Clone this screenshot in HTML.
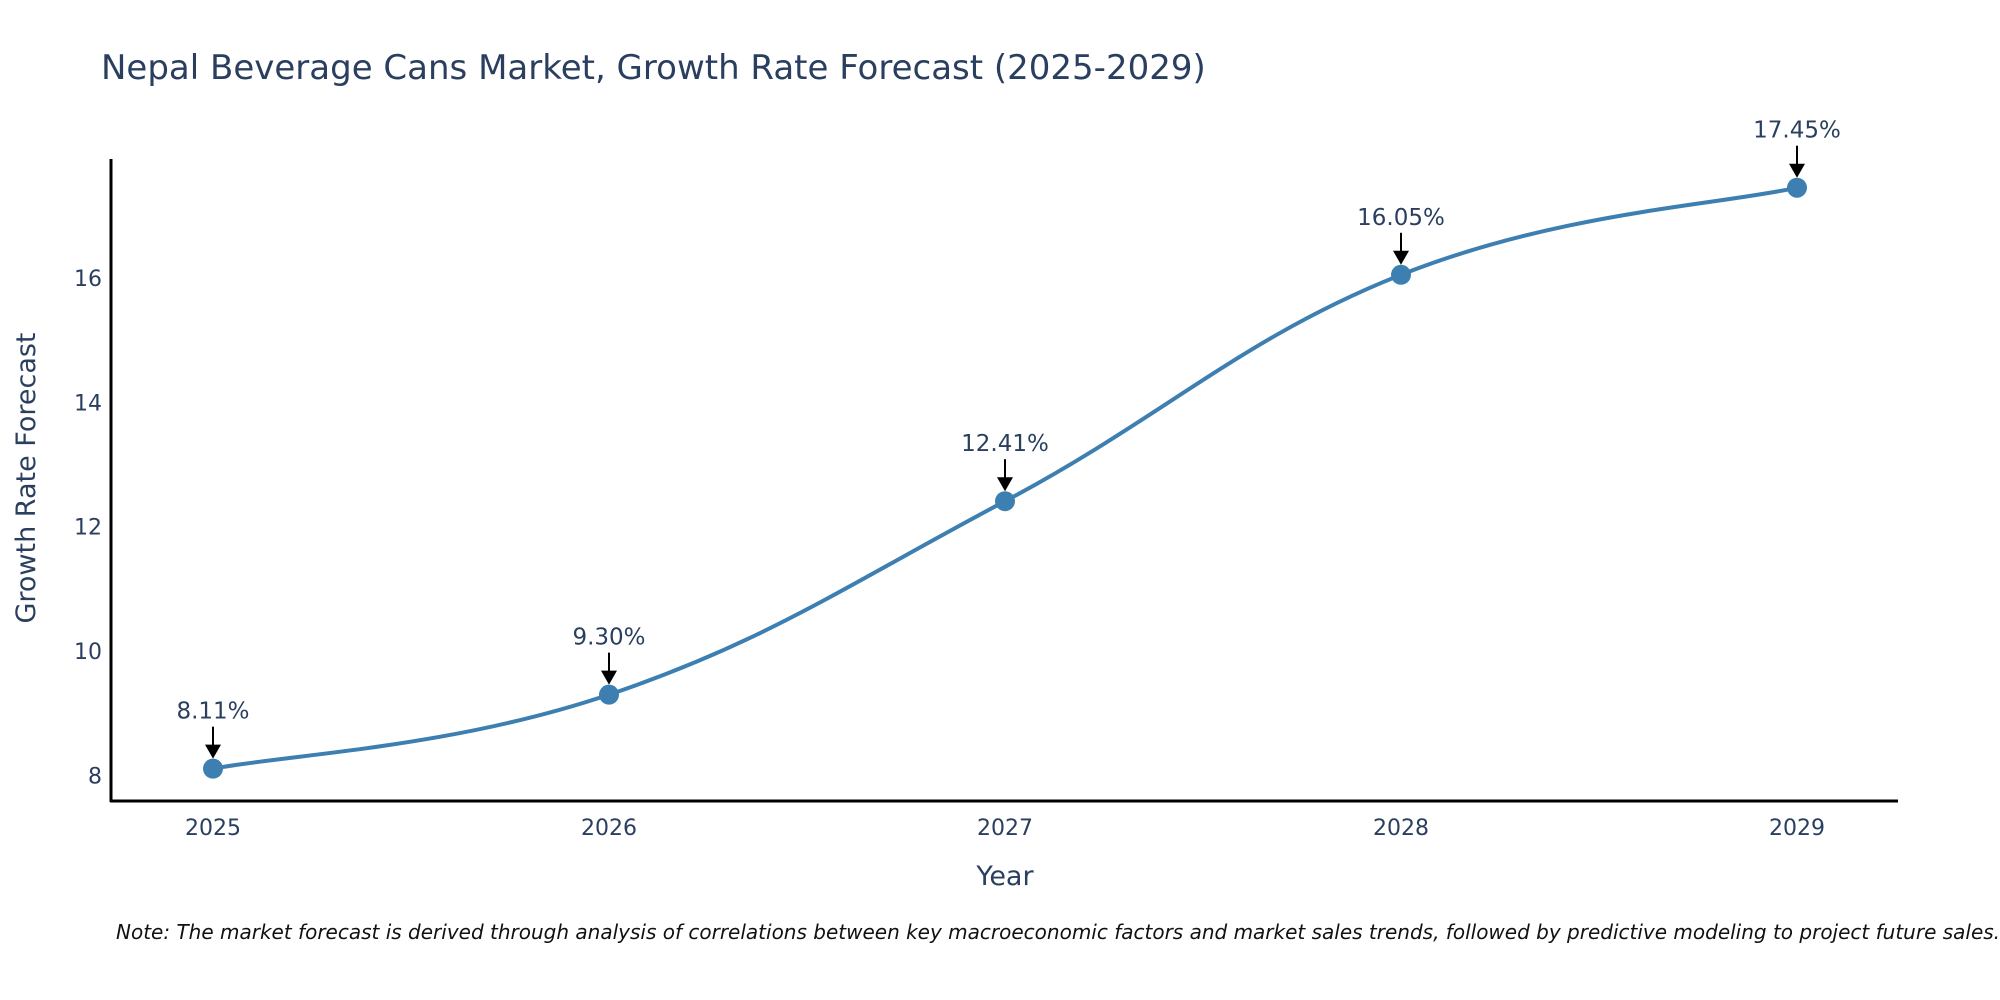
<!DOCTYPE html>
<html><head><meta charset="utf-8"><style>
html,body{margin:0;padding:0;background:#fff;}
svg{display:block;font-family:"DejaVu Sans","Liberation Sans",sans-serif;}
</style></head><body>
<svg id="chart" width="2000" height="1000" viewBox="0 0 2000 1000">
<text x="101" y="79" font-size="34" fill="#2a3f5f">Nepal Beverage Cans Market, Growth Rate Forecast (2025-2029)</text>
<g id="yticks"></g>
<g id="xticks"></g>
<line x1="111" y1="159" x2="111" y2="802" stroke="#000" stroke-width="3"/>
<line x1="110" y1="801" x2="1898" y2="801" stroke="#000" stroke-width="3"/>
<path id="line" fill="none" stroke="#3d7fb1" stroke-width="4"/>
<g id="points"></g>
<g id="annots"></g>
<text x="1005" y="885" font-size="27" fill="#2a3f5f" text-anchor="middle">Year</text>
<text transform="translate(35,478) rotate(-90)" font-size="27" fill="#2a3f5f" text-anchor="middle">Growth Rate Forecast</text>
<text x="116" y="939" font-size="20" font-style="italic" fill="#111">Note: The market forecast is derived through analysis of correlations between key macroeconomic factors and market sales trends, followed by predictive modeling to project future sales.</text>
</svg>
<script>
const years=["2025","2026","2027","2028","2029"];
const values=[8.11,9.30,12.41,16.05,17.45];
const labels=["8.11%","9.30%","12.41%","16.05%","17.45%"];
const yTicks=[8,10,12,14,16];
const NS="http://www.w3.org/2000/svg";
function xs(i){return 213+i*(1797-213)/(years.length-1);}
function ys(v){return 775.5-(v-8)*62.2;}
function mk(tag,attrs,parent){const e=document.createElementNS(NS,tag);for(const k in attrs)e.setAttribute(k,attrs[k]);parent.appendChild(e);return e;}
const yt=document.getElementById('yticks');
yTicks.forEach(t=>{const e=mk('text',{x:102,y:ys(t)+8,'font-size':22,fill:'#2a3f5f','text-anchor':'end'},yt);e.textContent=t;

});
const xt=document.getElementById('xticks');
years.forEach((y,i)=>{const e=mk('text',{x:xs(i),y:835,'font-size':22,fill:'#2a3f5f','text-anchor':'middle'},xt);e.textContent=y;

});
const P=values.map((v,i)=>[xs(i),ys(v)]);
let d=`M${P[0][0]},${P[0][1]}`;const s=0.2;
for(let i=0;i<P.length-1;i++){const p0=P[Math.max(i-1,0)],p1=P[i],p2=P[i+1],p3=P[Math.min(i+2,P.length-1)];
d+=` C${p1[0]+(p2[0]-p0[0])*s},${p1[1]+(p2[1]-p0[1])*s} ${p2[0]-(p3[0]-p1[0])*s},${p2[1]-(p3[1]-p1[1])*s} ${p2[0]},${p2[1]}`;}
document.getElementById('line').setAttribute('d',d);
const pts=document.getElementById('points'),an=document.getElementById('annots');
P.forEach((p,i)=>{const c=mk('circle',{cx:p[0],cy:p[1],r:10,fill:'#3d7fb1'},pts);


const l=mk('line',{x1:p[0],y1:p[1]-42,x2:p[0],y2:p[1]-22,stroke:'#000','stroke-width':2},an);


const a=mk('polygon',{points:`${p[0]-8},${p[1]-24} ${p[0]+8},${p[1]-24} ${p[0]},${p[1]-10}`,fill:'#000'},an);


const t=mk('text',{x:p[0],y:p[1]-50,'font-size':23,fill:'#2a3f5f','text-anchor':'middle'},an);t.textContent=labels[i];

});
</script>
</body></html>
